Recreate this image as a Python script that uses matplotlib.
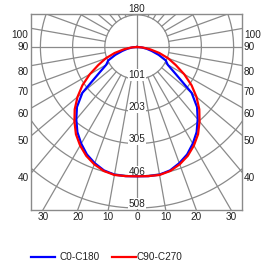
import numpy as np
import matplotlib
matplotlib.use("Agg")
import matplotlib.pyplot as plt
from matplotlib.lines import Line2D

# ---- data (cd, angle from nadir in degrees) ----
angles = [0, 5, 10, 15, 20, 25, 30, 35, 40, 45, 50, 55, 60, 65, 70, 75, 80, 85, 90]
c0_c180 = [408, 409, 409, 403, 390, 374, 352, 328, 298, 268, 225, 150, 112, 100, 73, 48, 30, 14, 0]
c90_c270 = [408, 409, 410, 405, 394, 379, 359, 336, 307, 278, 245, 210, 172, 135, 105, 73, 42, 18, 0]
ring_labels = ["101", "203", "305", "406", "508"]
ring_values = [101.6, 203.2, 304.8, 406.4, 508.0]
side_angles = [100, 90, 80, 70, 60, 50, 40]
bottom_angles = [30, 20, 10, 0, 10, 20, 30]
bottom_signs = [-1, -1, -1, 0, 1, 1, 1]
series_names = ["C0-C180", "C90-C270"]
series_colors = ["#0000ff", "#ff0000"]

plt.rcParams['font.family'] = ['Liberation Sans', 'DejaVu Sans']
FS = 7.2
W, H = 275, 265
fig = plt.figure(figsize=(W / 100, H / 100), dpi=100)

# axes box in pixels
L, R, T, B = 31, 242, 14, 210
cx_px, cy_px = 137, 47
s = 508.0 / 161.0  # cd per pixel
ax = fig.add_axes([L / W, (H - B) / H, (R - L) / W, (B - T) / H])
x0, x1 = (L - cx_px) * s, (R - cx_px) * s
y0, y1 = -(B - cy_px) * s, (cy_px - T) * s
ax.set_xlim(x0, x1)
ax.set_ylim(y0, y1)
ax.set_xticks([]); ax.set_yticks([])
grid_c = "#8a8a8a"
for sp in ax.spines.values():
    sp.set_color(grid_c)
    sp.set_linewidth(1.0)

# rings
t = np.linspace(0, 2 * np.pi, 400)
for rv in ring_values:
    ax.plot(rv * np.cos(t), rv * np.sin(t), color=grid_c, lw=0.9, zorder=1)

# radial lines
far = 2000
for a in range(10, 180, 10):
    if a == 90:
        continue
    th = np.radians(a)
    for sg in (-1, 1):
        dx, dy = sg * np.sin(th), -np.cos(th)
        ax.plot([ring_values[0] * dx, far * dx], [ring_values[0] * dy, far * dy],
                color=grid_c, lw=0.9, zorder=1)
ax.plot([0, 0], [-far, far], color=grid_c, lw=0.9, zorder=1)
ax.plot([-far, far], [0, 0], color=grid_c, lw=0.9, zorder=1)

# ring labels
for lab, rv in zip(ring_labels, ring_values):
    ax.text(0, -rv + 4.2 * s, lab, ha='center', va='center', fontsize=FS, color='#222222',
            zorder=3, bbox=dict(fc='white', ec='none', pad=0.4))

# curves (mirrored halves)
for vals, col in zip([c0_c180, c90_c270], series_colors):
    th = np.radians(np.array(angles, dtype=float))
    r = np.array(vals, dtype=float)
    xr, yr = r * np.sin(th), -r * np.cos(th)
    xs = np.concatenate([-xr[::-1], xr[1:]])
    ys = np.concatenate([yr[::-1], yr[1:]])
    ax.plot(xs, ys, color=col, lw=1.6, zorder=4, solid_joinstyle='round')

# side labels (figure pixels)
def to_fig(xp, yp):
    return xp / W, 1 - yp / H

for a in side_angles:
    th = np.radians(a)
    xe = (R - cx_px)
    yp = cy_px + xe * np.cos(th) / np.sin(th)
    if a != 90:
        yp += 6.3
    fig.text(*to_fig(28.5, yp), str(a), ha='right', va='center', fontsize=FS, color='#222222')
    fig.text(*to_fig(244, yp), str(a), ha='left', va='center', fontsize=FS, color='#222222')

for a, sg in zip(bottom_angles, bottom_signs):
    xp = cx_px + sg * (B - cy_px) * np.tan(np.radians(a))
    fig.text(*to_fig(xp, 216.5), str(a), ha='center', va='center', fontsize=FS, color='#222222')

fig.text(*to_fig(cx_px, 9), "180", ha='center', va='center', fontsize=FS, color='#222222')

# legend
ly = 256.5
for (xa, xb, xt), name, col in zip([(30.5, 54.5, 59.5), (112, 136, 136.5)], series_names, series_colors):
    fig.add_artist(Line2D([xa / W, xb / W], [1 - ly / H, 1 - ly / H], color=col, lw=1.6))
    fig.text(*to_fig(xt, ly), name, ha='left', va='center', fontsize=FS, color='#222222')

fig.savefig("out.png", dpi=100)
